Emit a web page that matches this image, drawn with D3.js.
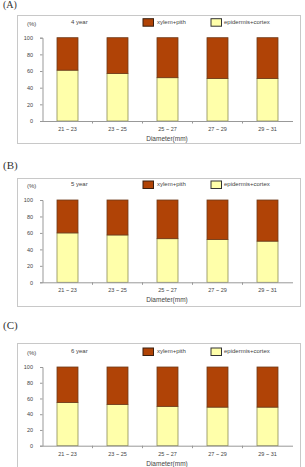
<!DOCTYPE html>
<html>
<head>
<meta charset="utf-8">
<script src="https://cdn.jsdelivr.net/npm/d3@7"></script>
<style>
  body { margin: 0; background: #fff; }
  svg { display: block; }
  .tick text { font-family: "Liberation Sans", Arial, sans-serif; }
</style>
</head>
<body>
<svg id="chart" width="305" height="467"></svg>
<script>
// ---- data ----
const categories = ["21 ~ 23", "23 ~ 25", "25 ~ 27", "27 ~ 29", "29 ~ 31"];
const yTicks = [0, 20, 40, 60, 80, 100];
const panelLabels = ["(A)", "(B)", "(C)"];
const yearLabels = ["4 year", "5 year", "6 year"];
const seriesNames = ["xylem+pith", "epidermis+cortex"];

const epidermis4 = [61, 57, 52, 51, 51];
const xylem4 = [39, 43, 48, 49, 49];
const epidermis5 = [60, 57.5, 53, 52, 50];
const xylem5 = [40, 42.5, 47, 48, 50];
const epidermis6 = [55, 52.5, 50, 49, 49];
const xylem6 = [45, 47.5, 50, 51, 51];

const colors = { xylem: "#b04306", epidermis: "#ffffaa" };

// layout of the three stacked panels (pixel positions, not data)
const panels = [
  { label: panelLabels[0], year: yearLabels[0], epi: epidermis4, xyl: xylem4,
    labelY: 4, frameTop: 15, frameBottom: 143, top: 37.7, bottom: 121 },
  { label: panelLabels[1], year: yearLabels[1], epi: epidermis5, xyl: xylem5,
    labelY: 165, frameTop: 178, frameBottom: 306, top: 200, bottom: 282.3 },
  { label: panelLabels[2], year: yearLabels[2], epi: epidermis6, xyl: xylem6,
    labelY: 325, frameTop: 343, frameBottom: 475, top: 367, bottom: 445.7 }
];

const svg = d3.select("#chart");
const sans = "'Liberation Sans', Arial, sans-serif";

const x = d3.scaleBand()
  .domain(categories)
  .range([42.5, 292.5])
  .paddingInner(0.58)
  .paddingOuter(0.29);

panels.forEach(p => {
  // panel letter
  svg.append("text")
    .attr("x", 3)
    .attr("y", p.labelY + 4)
    .attr("font-family", "'Liberation Serif', 'Times New Roman', serif")
    .attr("font-size", p.labelY < 10 ? 10 : 11)
    .attr("fill", "#333")
    .text(p.label);

  // frame
  svg.append("rect")
    .attr("x", 17.5)
    .attr("y", p.frameTop + 0.5)
    .attr("width", 283)
    .attr("height", p.frameBottom - p.frameTop)
    .attr("fill", "none")
    .attr("stroke", "#c8c8c8")
    .attr("stroke-width", 1);

  const y = d3.scaleLinear().domain([0, 100]).range([p.bottom, p.top]);
  const g = svg.append("g");

  const rows = categories.map((c, i) => ({ cat: c, epi: p.epi[i], xyl: p.xyl[i] }));

  // epidermis+cortex (bottom)
  g.selectAll(".epi")
    .data(rows)
    .enter()
    .append("rect")
    .attr("class", "epi")
    .attr("x", d => x(d.cat))
    .attr("width", x.bandwidth())
    .attr("y", d => y(d.epi))
    .attr("height", d => y(0) - y(d.epi))
    .attr("fill", colors.epidermis)
    .attr("stroke", "#8c8c55")
    .attr("stroke-width", 0.8);

  // xylem+pith (top)
  g.selectAll(".xyl")
    .data(rows)
    .enter()
    .append("rect")
    .attr("class", "xyl")
    .attr("x", d => x(d.cat))
    .attr("width", x.bandwidth())
    .attr("y", d => y(d.epi + d.xyl))
    .attr("height", d => y(d.epi) - y(d.epi + d.xyl))
    .attr("fill", colors.xylem)
    .attr("stroke", "#6e3a1a")
    .attr("stroke-width", 0.8);

  // y axis
  const yAxis = svg.append("g")
    .attr("transform", "translate(42.5,0)")
    .call(d3.axisLeft(y).tickValues(yTicks).tickSize(2.5).tickPadding(7));
  yAxis.selectAll("path, line").attr("stroke", "#999");
  yAxis.selectAll("text").attr("font-size", 5.5).attr("fill", "#444");

  // x axis: ticks between categories
  const xAxis = svg.append("g")
    .attr("transform", `translate(0,${p.bottom})`)
    .call(d3.axisBottom(x).tickSize(0).tickPadding(6));
  xAxis.select(".domain").attr("stroke", "#999");
  xAxis.selectAll("text").attr("font-size", 5.5).attr("fill", "#444");
  xAxis.selectAll(".sep")
    .data(categories.slice(1))
    .enter()
    .append("line")
    .attr("class", "sep")
    .attr("x1", d => x(d) - x.step() * x.paddingInner() / 2)
    .attr("x2", d => x(d) - x.step() * x.paddingInner() / 2)
    .attr("y1", 0)
    .attr("y2", 2.5)
    .attr("stroke", "#999");

  // axis title
  svg.append("text")
    .attr("x", 167)
    .attr("y", p.bottom + 20)
    .attr("text-anchor", "middle")
    .attr("font-family", sans)
    .attr("font-size", 6.5)
    .attr("fill", "#444")
    .text("Diameter(mm)");

  // unit + year
  const ly = p.top - 14;
  svg.append("text")
    .attr("x", 27)
    .attr("y", ly + 2)
    .attr("font-family", sans)
    .attr("font-size", 6)
    .attr("fill", "#444")
    .text("(%)");
  svg.append("text")
    .attr("x", 71)
    .attr("y", ly)
    .attr("font-family", sans)
    .attr("font-size", 6)
    .attr("fill", "#444")
    .text(p.year);

  // legend
  const legend = [
    { name: seriesNames[0], fill: colors.xylem, stroke: "#3a2010", sx: 143, tx: 157 },
    { name: seriesNames[1], fill: colors.epidermis, stroke: "#333", sx: 211, tx: 224 }
  ];
  legend.forEach(l => {
    svg.append("rect")
      .attr("x", l.sx)
      .attr("y", ly - 5)
      .attr("width", 10.5)
      .attr("height", 7.5)
      .attr("fill", l.fill)
      .attr("stroke", l.stroke)
      .attr("stroke-width", 1);
    svg.append("text")
      .attr("x", l.tx)
      .attr("y", ly)
      .attr("font-family", sans)
      .attr("font-size", 6)
      .attr("fill", "#444")
      .text(l.name);
  });
});
</script>
</body>
</html>
